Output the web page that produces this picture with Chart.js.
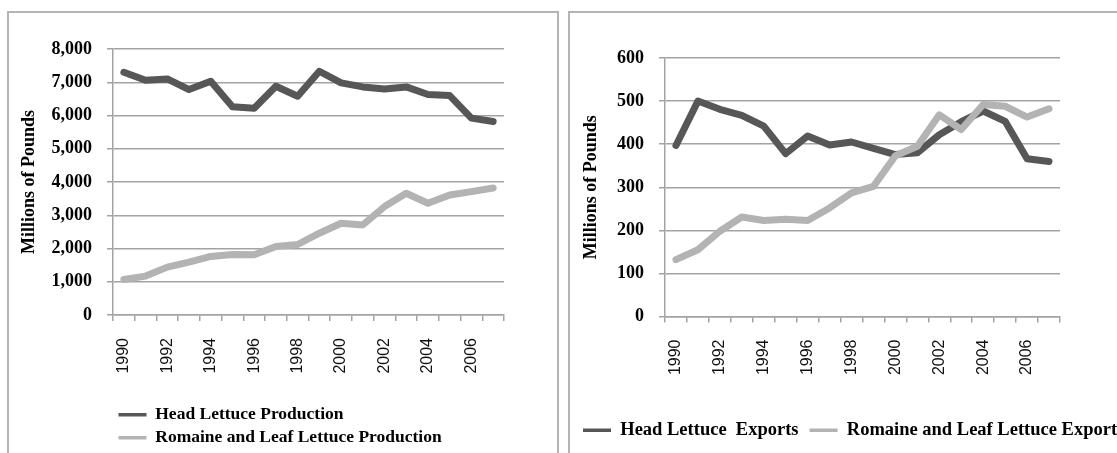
<!DOCTYPE html>
<html>
<head>
<meta charset="utf-8">
<script src="https://cdn.jsdelivr.net/npm/chart.js@4.4.1/dist/chart.umd.min.js"></script>
<style>
  html, body { margin: 0; padding: 0; background: #fff; width: 1117px; height: 453px; overflow: hidden; }
  .frame { position: absolute; border: 2px solid #b4b4b4; pointer-events: none; }
  canvas { position: absolute; }
</style>
</head>
<body>
<div class="frame" style="left:7px; top:11px; width:548px; height:520px;"></div>
<div class="frame" style="left:568px; top:11px; width:700px; height:520px;"></div>
<canvas id="production" width="549" height="458" style="left:8px; top:12px;"></canvas>
<canvas id="exports" width="620" height="458" style="left:569px; top:12px;"></canvas>
<script>
// Years on the category axis
const years = ['1990', '1991', '1992', '1993', '1994', '1995', '1996', '1997', '1998',
               '1999', '2000', '2001', '2002', '2003', '2004', '2005', '2006', '2007'];

// U.S. lettuce production, millions of pounds
const headProduction    = [7300, 7060, 7100, 6780, 7030, 6260, 6220, 6880, 6580,
                           7330, 6980, 6860, 6800, 6860, 6630, 6600, 5920, 5820];
const romaineProduction = [1070, 1170, 1440, 1590, 1760, 1820, 1810, 2060, 2120,
                           2460, 2760, 2710, 3260, 3660, 3360, 3610, 3710, 3820];

// U.S. lettuce exports, millions of pounds
const headExports    = [397, 500, 481, 467, 442, 378, 419, 398, 405,
                        390, 376, 380, 422, 452, 477, 453, 366, 360];
const romaineExports = [132, 155, 198, 231, 223, 226, 223, 252, 287,
                        302, 373, 395, 468, 434, 492, 488, 463, 482];

const DARK = '#575757';
const LIGHT = '#b3b3b3';
const GRID = '#a3a3a3';
const SERIF = "'Liberation Serif', 'Times New Roman', serif";
const SANS = "'Liberation Sans', Arial, sans-serif";

function lineSet(label, data, color, order) {
  return {
    label, data, order,
    borderColor: color,
    backgroundColor: color,
    borderWidth: 7,
    borderCapStyle: 'round',
    borderJoinStyle: 'round',
    pointRadius: 0,
    tension: 0,
    fill: false
  };
}

// Legend keys drawn as short solid bars in the series colour
function legendLabels(chart) {
  return Chart.defaults.plugins.legend.labels.generateLabels(chart).map(item => {
    item.lineWidth = 0;
    item.fillStyle = item.strokeStyle;
    return item;
  });
}

function buildChart(id, cfg) {
  return new Chart(document.getElementById(id), {
    type: 'line',
    data: {
      labels: years,
      datasets: [
        lineSet(cfg.names[0], cfg.series[0], DARK, 1),
        lineSet(cfg.names[1], cfg.series[1], LIGHT, 0)
      ]
    },
    options: {
      responsive: false,
      animation: false,
      devicePixelRatio: 1,
      layout: { padding: cfg.padding },
      plugins: {
        tooltip: { enabled: false },
        legend: {
          position: 'bottom',
          align: 'start',
          fullSize: cfg.legendFull,
          labels: {
            boxWidth: 28,
            boxHeight: 3.5,
            padding: cfg.legendPad,
            color: '#000',
            font: { family: SERIF, size: cfg.legendSize, weight: 'bold' },
            generateLabels: legendLabels,
            sort: (a, b) => a.datasetIndex - b.datasetIndex
          }
        }
      },
      scales: {
        x: {
          type: 'category',
          offset: true,
          afterFit: s => { s.height = cfg.xHeight; },
          grid: { offset: true, drawOnChartArea: false, tickLength: 6, color: GRID, lineWidth: 1.5 },
          border: { color: GRID, width: 1.5 },
          ticks: {
            autoSkip: false,
            minRotation: 90,
            maxRotation: 90,
            padding: 17,
            color: '#111',
            font: { family: SANS, size: 16 },
            callback: (v, i) => (i % 2 === 0 ? years[i] : '')
          }
        },
        y: {
          min: 0,
          max: cfg.max,
          afterFit: s => { s.width = cfg.yWidth; },
          grid: { tickLength: 6, color: GRID, lineWidth: 1.5 },
          border: { color: GRID, width: 1.5 },
          ticks: {
            stepSize: cfg.step,
            padding: 15,
            color: '#000',
            font: { family: SERIF, size: 18, weight: 'bold' }
          },
          title: {
            display: true,
            text: 'Millions of Pounds',
            color: '#000',
            padding: { top: cfg.titlePad, bottom: 0 },
            font: { family: SERIF, size: 18, weight: 'bold' }
          }
        },
        ...(cfg.rightGap ? {
          yRight: {
            position: 'right',
            afterFit: s => { s.width = cfg.rightGap; },
            grid: { display: false },
            border: { display: false },
            ticks: { display: false }
          }
        } : {})
      }
    }
  });
}

buildChart('production', {
  names: ['Head Lettuce Production', 'Romaine and Leaf Lettuce Production'],
  series: [headProduction, romaineProduction],
  max: 8000, step: 1000,
  padding: { left: 0, right: 53, top: 37, bottom: 13.5 },
  legendFull: false, legendPad: 5.5, legendSize: 17.5,
  xHeight: 85.5, yWidth: 105, titlePad: 11
});

buildChart('exports', {
  names: ['Head Lettuce  Exports', 'Romaine and Leaf Lettuce Exports'],
  series: [headExports, romaineExports],
  max: 600, step: 100,
  padding: { left: 3, right: 0, top: 46, bottom: 20.5 },
  legendFull: true, legendPad: 11, legendSize: 18.5,
  xHeight: 93.5, yWidth: 93, titlePad: 9, rightGap: 129
});
</script>
</body>
</html>
